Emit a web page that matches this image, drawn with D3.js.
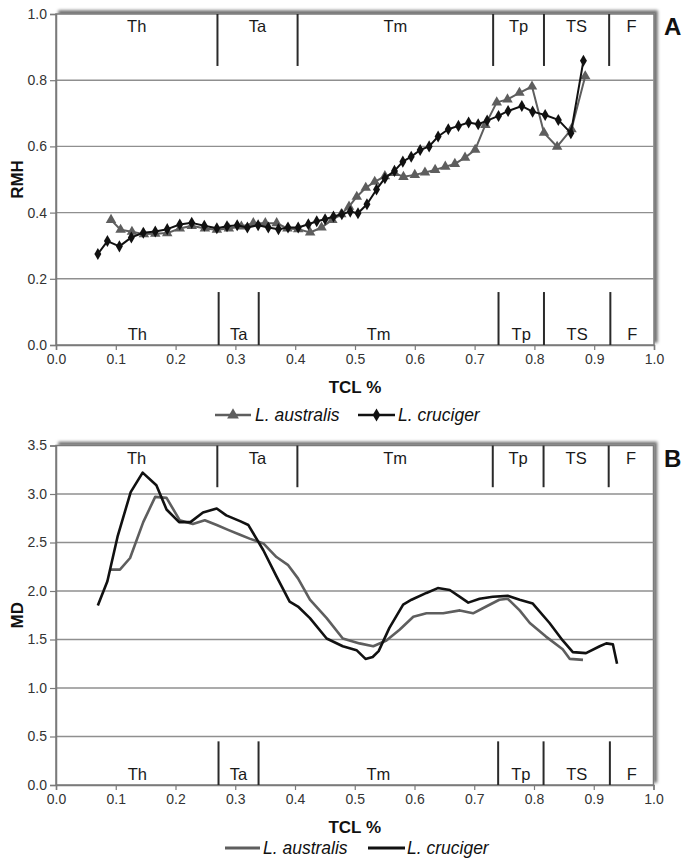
<!DOCTYPE html>
<html>
<head>
<meta charset="utf-8">
<script src="https://cdn.jsdelivr.net/npm/d3@7/dist/d3.min.js"></script>
<style>
  body { margin: 0; background: #fff; }
  svg { display: block; }
  text { font-family: "Liberation Sans", Arial, sans-serif; }
</style>
</head>
<body>
<svg id="chart" width="687" height="861"></svg>
<script>
// ---- data ----
const tclTicks = [0, 0.1, 0.2, 0.3, 0.4, 0.5, 0.6, 0.7, 0.8, 0.9, 1.0];
const rmhTicks = [0, 0.2, 0.4, 0.6, 0.8, 1.0];
const mdTicks = [0, 0.5, 1.0, 1.5, 2.0, 2.5, 3.0, 3.5];
const speciesNames = ["L. australis", "L. cruciger"];
const zoneNames = ["Th", "Ta", "Tm", "Tp", "TS", "F"];
const upperZoneBounds = [0.270, 0.404, 0.731, 0.816, 0.925];
const lowerZoneBounds = [0.272, 0.339, 0.740, 0.816, 0.927];

// Relative maximum height (RMH) along total carapace length
const rmhTclAustralis = [0.092, 0.108, 0.127, 0.147, 0.166, 0.186, 0.207, 0.227, 0.249, 0.269,
  0.289, 0.310, 0.330, 0.350, 0.369, 0.387, 0.405, 0.425, 0.444, 0.462, 0.477, 0.490, 0.503,
  0.518, 0.533, 0.550, 0.566, 0.581, 0.600, 0.617, 0.634, 0.651, 0.667, 0.684, 0.701, 0.718,
  0.737, 0.755, 0.775, 0.796, 0.816, 0.838, 0.862, 0.885];
const rmhAustralis = [0.378, 0.348, 0.342, 0.335, 0.336, 0.338, 0.352, 0.360, 0.352, 0.348,
  0.352, 0.358, 0.368, 0.368, 0.368, 0.352, 0.350, 0.340, 0.355, 0.378, 0.395, 0.418, 0.448,
  0.475, 0.493, 0.510, 0.520, 0.508, 0.514, 0.521, 0.529, 0.539, 0.547, 0.566, 0.590, 0.665,
  0.733, 0.742, 0.762, 0.781, 0.641, 0.599, 0.652, 0.812];
const rmhTclCruciger = [0.070, 0.086, 0.106, 0.126, 0.146, 0.166, 0.186, 0.207, 0.227, 0.248,
  0.269, 0.286, 0.303, 0.320, 0.338, 0.355, 0.372, 0.388, 0.405, 0.422, 0.436, 0.450, 0.464,
  0.478, 0.492, 0.505, 0.520, 0.536, 0.550, 0.566, 0.580, 0.594, 0.609, 0.624, 0.639, 0.656,
  0.673, 0.690, 0.706, 0.721, 0.740, 0.756, 0.779, 0.797, 0.818, 0.840, 0.861, 0.882];
const rmhCruciger = [0.275, 0.314, 0.298, 0.325, 0.339, 0.343, 0.350, 0.364, 0.369, 0.360,
  0.353, 0.359, 0.362, 0.355, 0.362, 0.355, 0.350, 0.355, 0.355, 0.365, 0.374, 0.380, 0.388,
  0.395, 0.403, 0.398, 0.425, 0.470, 0.504, 0.526, 0.554, 0.569, 0.589, 0.600, 0.630, 0.652,
  0.662, 0.672, 0.667, 0.678, 0.692, 0.707, 0.722, 0.705, 0.695, 0.680, 0.640, 0.859];

// Mahalanobis distance (MD) along total carapace length
const mdTclAustralis = [0.090, 0.107, 0.124, 0.146, 0.166, 0.185, 0.207, 0.229, 0.249, 0.269,
  0.288, 0.308, 0.324, 0.347, 0.369, 0.388, 0.405, 0.425, 0.453, 0.480, 0.508, 0.531, 0.553,
  0.575, 0.598, 0.620, 0.648, 0.676, 0.698, 0.720, 0.742, 0.756, 0.776, 0.793, 0.820, 0.848,
  0.860, 0.882];
const mdAustralis = [2.22, 2.22, 2.34, 2.71, 2.97, 2.96, 2.73, 2.69, 2.73, 2.68,
  2.63, 2.58, 2.54, 2.49, 2.35, 2.27, 2.13, 1.91, 1.72, 1.51, 1.46, 1.43, 1.49,
  1.60, 1.735, 1.77, 1.77, 1.80, 1.77, 1.84, 1.91, 1.92, 1.80, 1.67, 1.53, 1.40,
  1.30, 1.29];
const mdTclCruciger = [0.070, 0.086, 0.103, 0.125, 0.145, 0.168, 0.185, 0.206, 0.225, 0.246,
  0.269, 0.285, 0.308, 0.322, 0.347, 0.369, 0.391, 0.405, 0.425, 0.453, 0.480, 0.503, 0.518,
  0.530, 0.540, 0.558, 0.581, 0.595, 0.620, 0.639, 0.659, 0.676, 0.690, 0.709, 0.731, 0.756,
  0.776, 0.798, 0.826, 0.848, 0.865, 0.887, 0.910, 0.921, 0.932, 0.939];
const mdCruciger = [1.85, 2.10, 2.56, 3.02, 3.22, 3.09, 2.84, 2.71, 2.71, 2.81,
  2.85, 2.78, 2.72, 2.68, 2.42, 2.15, 1.89, 1.84, 1.72, 1.51, 1.43, 1.39, 1.30,
  1.32, 1.38, 1.62, 1.86, 1.91, 1.98, 2.03, 2.01, 1.94, 1.88, 1.92, 1.94, 1.95,
  1.91, 1.87, 1.67, 1.49, 1.37, 1.36, 1.43, 1.46, 1.45, 1.25];

// ---- drawing ----
const svg = d3.select("#chart");
const GRAY = "#5e5e5e", BLACK = "#111";

const defs = svg.append("defs");
defs.append("filter").attr("id", "plotShadow")
  .attr("x", "-5%").attr("y", "-5%").attr("width", "110%").attr("height", "110%")
  .append("feDropShadow")
  .attr("dx", 3).attr("dy", -3).attr("stdDeviation", 1.6)
  .attr("flood-color", "#000").attr("flood-opacity", 0.55);

const panels = [
  {
    top: 14, bottom: 345, left: 56, right: 654,
    yDomain: [0, 1], yTicks: rmhTicks, yFormat: d3.format(".1f"), yTitle: "RMH", letter: "A",
    upperZoneEnd: 0.843, lowerZoneStart: 0.16,
    markers: true, lineWidth: 2,
    series: [
      { x: rmhTclAustralis, y: rmhAustralis, color: GRAY, symbol: d3.symbolTriangle },
      { x: rmhTclCruciger, y: rmhCruciger, color: BLACK, symbol: d3.symbolDiamond }
    ],
    legendY: 415,
    legend: [ { x0: 215, x1: 251, tx: 255 }, { x0: 358, x1: 395, tx: 398 } ]
  },
  {
    top: 445.5, bottom: 785, left: 56, right: 653.5,
    yDomain: [0, 3.5], yTicks: mdTicks, yFormat: d3.format(".1f"), yTitle: "MD", letter: "B",
    upperZoneEnd: 3.07, lowerZoneStart: 0.45,
    markers: false, lineWidth: 2.6,
    series: [
      { x: mdTclAustralis, y: mdAustralis, color: GRAY },
      { x: mdTclCruciger, y: mdCruciger, color: BLACK }
    ],
    legendY: 848,
    legend: [ { x0: 225, x1: 260, tx: 263 }, { x0: 368, x1: 405, tx: 407 } ]
  }
];

panels.forEach(p => {
  const x = d3.scaleLinear().domain([0, 1]).range([p.left, p.right]);
  const y = d3.scaleLinear().domain(p.yDomain).range([p.bottom, p.top]);
  const g = svg.append("g");

  // plot area with shadowed frame
  g.append("rect")
    .attr("x", p.left).attr("y", p.top)
    .attr("width", p.right - p.left).attr("height", p.bottom - p.top)
    .attr("fill", "#fff").attr("stroke", "#7a7a7a").attr("stroke-width", 1.5)
    .attr("filter", "url(#plotShadow)");

  // horizontal gridlines
  g.append("g").selectAll("line")
    .data(p.yTicks.filter(v => v > p.yDomain[0] && v < p.yDomain[1]))
    .join("line")
    .attr("x1", p.left).attr("x2", p.right)
    .attr("y1", d => y(d)).attr("y2", d => y(d))
    .attr("stroke", "#8f8f8f").attr("stroke-width", 1.4);

  // axes
  const yAxis = d3.axisLeft(y).tickValues(p.yTicks).tickFormat(p.yFormat).tickSize(6).tickPadding(3);
  const yg = g.append("g").attr("transform", `translate(${p.left},0)`).call(yAxis);
  const xAxis = d3.axisBottom(x).tickValues(tclTicks).tickFormat(d3.format(".1f")).tickSize(5).tickPadding(4);
  const xg = g.append("g").attr("transform", `translate(0,${p.bottom})`).call(xAxis);
  [yg, xg].forEach(ax => {
    ax.select(".domain").attr("stroke", "#7a7a7a").attr("stroke-width", 1.5);
    ax.selectAll(".tick line").attr("stroke", "#7a7a7a").attr("stroke-width", 1.2);
    ax.selectAll(".tick text").attr("fill", "#333").attr("font-size", 14)
      .attr("font-family", '"Liberation Sans", Arial, sans-serif');
  });

  // zone separators and labels (upper and lower bands)
  const zoneBands = [
    { bounds: upperZoneBounds, y0: p.yDomain[1], y1: p.upperZoneEnd, labelY: y(p.yDomain[1]) + 18 },
    { bounds: lowerZoneBounds, y0: p.lowerZoneStart, y1: p.yDomain[0], labelY: y(p.yDomain[0]) - 5 }
  ];
  zoneBands.forEach(band => {
    g.append("g").selectAll("line").data(band.bounds).join("line")
      .attr("x1", d => x(d)).attr("x2", d => x(d))
      .attr("y1", y(band.y0)).attr("y2", y(band.y1))
      .attr("stroke", "#2a2a2a").attr("stroke-width", 2);
    const edges = [0, ...band.bounds, 1];
    g.append("g").selectAll("text").data(zoneNames).join("text")
      .attr("x", (d, i) => x((edges[i] + edges[i + 1]) / 2))
      .attr("y", band.labelY)
      .attr("text-anchor", "middle").attr("font-size", 16.5).attr("fill", "#1a1a1a")
      .text(d => d);
  });

  // series
  const line = d3.line().x(d => x(d[0])).y(d => y(d[1]));
  p.series.forEach(s => {
    const pts = s.x.map((t, i) => [t, s.y[i]]);
    g.append("path").datum(pts)
      .attr("fill", "none").attr("stroke", s.color)
      .attr("stroke-width", p.lineWidth).attr("stroke-linejoin", "round")
      .attr("d", line);
    if (p.markers) {
      g.append("g").selectAll("path").data(pts).join("path")
        .attr("transform", d => `translate(${x(d[0])},${y(d[1])})`)
        .attr("d", d3.symbol().type(s.symbol).size(s.symbol === d3.symbolTriangle ? 48 : 42))
        .attr("fill", s.color);
    }
  });

  // axis titles
  g.append("text")
    .attr("transform", `translate(23,${(p.top + p.bottom) / 2}) rotate(-90)`)
    .attr("text-anchor", "middle").attr("font-size", 17).attr("font-weight", "bold").attr("fill", "#111")
    .text(p.yTitle);
  g.append("text")
    .attr("x", (p.left + p.right) / 2).attr("y", p.bottom + 48)
    .attr("text-anchor", "middle").attr("font-size", 17).attr("font-weight", "bold").attr("fill", "#111")
    .text("TCL %");

  // panel letter
  g.append("text")
    .attr("x", 664).attr("y", p.top + 21)
    .attr("font-size", 24).attr("font-weight", "bold").attr("fill", "#111")
    .text(p.letter);

  // legend
  p.series.forEach((s, i) => {
    const L = p.legend[i];
    g.append("line")
      .attr("x1", L.x0).attr("x2", L.x1).attr("y1", p.legendY).attr("y2", p.legendY)
      .attr("stroke", s.color).attr("stroke-width", p.lineWidth + 0.4);
    if (p.markers) {
      g.append("path")
        .attr("transform", `translate(${(L.x0 + L.x1) / 2},${p.legendY})`)
        .attr("d", d3.symbol().type(s.symbol).size(s.symbol === d3.symbolTriangle ? 60 : 50))
        .attr("fill", s.color);
    }
    g.append("text")
      .attr("x", L.tx).attr("y", p.legendY + 6)
      .attr("font-size", 17.5).attr("font-style", "italic").attr("fill", "#111")
      .text(speciesNames[i]);
  });
});
</script>
</body>
</html>
